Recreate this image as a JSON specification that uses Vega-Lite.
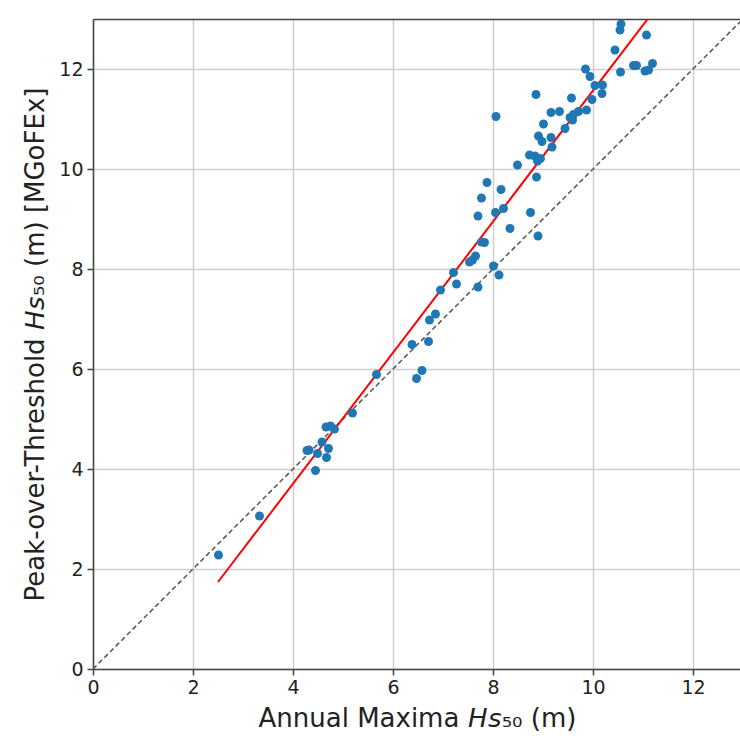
{
  "$schema": "https://vega.github.io/schema/vega-lite/v6.json",
  "width": 647,
  "height": 650,
  "autosize": {"type": "none"},
  "padding": {"left": 93, "top": 19, "right": 0, "bottom": 69},
  "background": "white",
  "config": {
    "view": {"stroke": null},
    "font": "DejaVu Sans",
    "axis": {
      "labelFont": "DejaVu Sans",
      "titleFont": "DejaVu Sans",
      "labelFontSize": 19,
      "titleFontSize": 26,
      "titleFontWeight": "normal",
      "labelColor": "#222222",
      "titleColor": "#222222",
      "domainColor": "#444444",
      "domainWidth": 1.5,
      "tickColor": "#444444",
      "tickWidth": 1.5,
      "tickSize": 6,
      "gridColor": "#cfcfcf",
      "gridWidth": 1.5,
      "labelFlush": false
    }
  },
  "datasets": {
    "pts": [
      {"am": 2.51, "pot": 2.28}, {"am": 3.33, "pot": 3.06}, {"am": 4.28, "pot": 4.37}, {"am": 4.32, "pot": 4.38},
      {"am": 4.45, "pot": 3.97}, {"am": 4.49, "pot": 4.31}, {"am": 4.58, "pot": 4.54}, {"am": 4.67, "pot": 4.23},
      {"am": 4.71, "pot": 4.41}, {"am": 4.66, "pot": 4.84}, {"am": 4.75, "pot": 4.86}, {"am": 4.83, "pot": 4.8},
      {"am": 5.19, "pot": 5.12}, {"am": 5.67, "pot": 5.89}, {"am": 6.38, "pot": 6.49}, {"am": 6.47, "pot": 5.81},
      {"am": 6.58, "pot": 5.97}, {"am": 6.71, "pot": 6.55}, {"am": 6.73, "pot": 6.98}, {"am": 6.85, "pot": 7.1},
      {"am": 6.95, "pot": 7.58}, {"am": 7.21, "pot": 7.93}, {"am": 7.27, "pot": 7.7}, {"am": 7.53, "pot": 8.14},
      {"am": 7.59, "pot": 8.18}, {"am": 7.65, "pot": 8.26}, {"am": 7.7, "pot": 7.64}, {"am": 7.7, "pot": 9.06},
      {"am": 7.77, "pot": 8.54}, {"am": 7.83, "pot": 8.53}, {"am": 7.77, "pot": 9.42}, {"am": 7.88, "pot": 9.73},
      {"am": 8.01, "pot": 8.06}, {"am": 8.12, "pot": 7.88}, {"am": 8.05, "pot": 9.13}, {"am": 8.06, "pot": 11.05},
      {"am": 8.16, "pot": 9.59}, {"am": 8.21, "pot": 9.21}, {"am": 8.34, "pot": 8.81}, {"am": 8.49, "pot": 10.08},
      {"am": 8.73, "pot": 10.28}, {"am": 8.75, "pot": 9.13}, {"am": 8.84, "pot": 10.26}, {"am": 8.86, "pot": 11.49},
      {"am": 8.87, "pot": 9.84}, {"am": 8.89, "pot": 10.16}, {"am": 8.9, "pot": 8.66}, {"am": 8.91, "pot": 10.66},
      {"am": 8.95, "pot": 10.21}, {"am": 8.98, "pot": 10.55}, {"am": 9.01, "pot": 10.9}, {"am": 9.16, "pot": 10.63},
      {"am": 9.18, "pot": 10.44}, {"am": 9.16, "pot": 11.13}, {"am": 9.33, "pot": 11.15}, {"am": 9.44, "pot": 10.81},
      {"am": 9.54, "pot": 11.03}, {"am": 9.59, "pot": 10.98}, {"am": 9.61, "pot": 11.09}, {"am": 9.57, "pot": 11.42},
      {"am": 9.71, "pot": 11.15}, {"am": 9.87, "pot": 11.18}, {"am": 9.85, "pot": 12.0}, {"am": 9.94, "pot": 11.85},
      {"am": 9.98, "pot": 11.39}, {"am": 10.04, "pot": 11.67}, {"am": 10.18, "pot": 11.51}, {"am": 10.19, "pot": 11.68},
      {"am": 10.44, "pot": 12.38}, {"am": 10.54, "pot": 12.78}, {"am": 10.56, "pot": 12.9}, {"am": 10.55, "pot": 11.94},
      {"am": 10.81, "pot": 12.07}, {"am": 10.87, "pot": 12.07}, {"am": 11.04, "pot": 11.96}, {"am": 11.11, "pot": 11.98},
      {"am": 11.19, "pot": 12.11}, {"am": 11.07, "pot": 12.68}
    ],
    "oneToOne": [{"am": 0, "pot": 0}, {"am": 13, "pot": 13}],
    "fit": [{"am": 2.5, "pot": 1.74}, {"am": 11.2, "pot": 13.14}]
  },
  "resolve": {"axis": {"x": "independent"}},
  "layer": [
    {
      "data": {"name": "oneToOne"},
      "mark": {"type": "line", "color": "#555555", "strokeWidth": 1.5, "strokeDash": [5, 3], "clip": true},
      "encoding": {
        "x": {
          "field": "am", "type": "quantitative",
          "scale": {"domain": [0, 12.94], "nice": false, "zero": false},
          "axis": {
            "orient": "bottom",
            "values": [0, 2, 4, 6, 8, 10, 12],
            "title": "Annual Maxima 𝘏𝘴₅₀ (m)",
            "titlePadding": 8,
            "labelPadding": 3,
            "titleAnchor": "start",
            "titleX": 165
          }
        },
        "y": {
          "field": "pot", "type": "quantitative",
          "scale": {"domain": [0, 13], "nice": false, "zero": false},
          "axis": {
            "values": [0, 2, 4, 6, 8, 10, 12],
            "title": "Peak-over-Threshold 𝘏𝘴₅₀ (m) [MGoFEx]",
            "titlePadding": 10,
            "labelPadding": 4
          }
        }
      }
    },
    {
      "data": {"name": "fit"},
      "mark": {"type": "line", "color": "#ff0000", "strokeWidth": 2, "clip": true},
      "encoding": {
        "x": {"field": "am", "type": "quantitative", "axis": {"orient": "top", "labels": false, "ticks": false, "grid": false, "title": null}},
        "y": {"field": "pot", "type": "quantitative"}
      }
    },
    {
      "data": {"name": "pts"},
      "mark": {"type": "circle", "color": "#1f77b4", "size": 80, "opacity": 1},
      "encoding": {
        "x": {"field": "am", "type": "quantitative", "axis": null},
        "y": {"field": "pot", "type": "quantitative"}
      }
    }
  ]
}
